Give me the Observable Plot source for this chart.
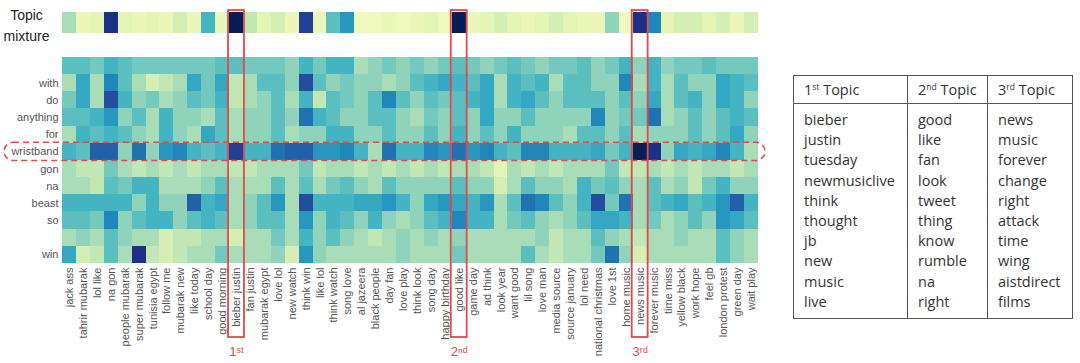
<!DOCTYPE html>
<html><head><meta charset="utf-8">
<script src="https://cdn.jsdelivr.net/npm/d3@7"></script>
<script src="https://cdn.jsdelivr.net/npm/@observablehq/plot@0.6"></script>
<style>
body{margin:0;background:#fff;width:1080px;height:363px;overflow:hidden;position:relative}
#chart{position:absolute;left:0;top:0}
#topics{position:absolute;left:793px;top:75px;border-collapse:collapse;table-layout:fixed;width:279px;font-family:"Open Sans",sans-serif;font-size:14.5px;color:#333}
#topics th,#topics td{border:1.5px solid #555;text-align:left;padding:0 0 0 10px;font-weight:normal;white-space:nowrap}
#topics th{height:27px;vertical-align:middle}
#topics td{vertical-align:top;line-height:20.2px;padding-top:6px;padding-bottom:6px}
#topics sup{font-size:8.5px;vertical-align:5px;line-height:0}
</style></head><body>
<div id="chart"></div>
<table id="topics"></table>
<script>
// ---- data ----
const words = ["", "with", "do", "anything", "for", "wristband", "gon", "na", "beast", "so", "", "win"];
const columns = ["jack ass","tahrir mubarak","lol like","na gon","people mubarak","super mubarak","tunisia egypt","follow me","mubarak new","like today","school day","good morning",
"bieber justin","fan justin","mubarak egypt","love lol","new watch","think win","like lol","think watch","song love","al jazeera","black people","day fan","love play",
"think look","song day","happy birthday","good like","game day","ad think","look year","want good","lil song","love man","media source","source january","lol need",
"national christmas","love 1st","home music","news music","forever music","time miss","yellow black","work hope","feel gb","london protest","green day","wait play"];
const mixture = [0.3,0.12,0.15,0.9,0.15,0.12,0.15,0.12,0.2,0.12,0.5,0.12,1.0,0.25,0.15,0.2,0.12,0.85,0.12,0.45,0.6,0.1,0.1,0.12,0.1,
0.12,0.15,0.1,1.0,0.12,0.15,0.2,0.15,0.12,0.15,0.2,0.15,0.12,0.12,0.35,0.1,0.9,0.65,0.15,0.2,0.2,0.15,0.2,0.12,0.2];
const heatRows = [
[0.45,0.45,0.4,0.5,0.45,0.4,0.4,0.4,0.4,0.4,0.4,0.45,0.45,0.4, 0.4,0.4,0.35,0.5,0.4,0.5,0.5,0.3,0.35,0.4,0.35,0.4,0.35,0.4,0.45,0.4,0.35,0.4, 0.45,0.4,0.35,0.4,0.4,0.45,0.35,0.4,0.5,0.35,0.5,0.35,0.4,0.4,0.45,0.4,0.4,0.4],
[0.3,0.55,0.3,0.65,0.45,0.3,0.2,0.25,0.3,0.55,0.4,0.55,0.25,0.3, 0.45,0.45,0.35,0.8,0.45,0.35,0.4,0.35,0.35,0.3,0.35,0.45,0.5,0.55,0.5,0.45,0.55,0.3, 0.5,0.45,0.5,0.3,0.45,0.45,0.35,0.35,0.65,0.3,0.5,0.3,0.45,0.35,0.35,0.55,0.5,0.45],
[0.4,0.55,0.3,0.8,0.5,0.35,0.4,0.3,0.35,0.45,0.4,0.5,0.25,0.3, 0.35,0.45,0.3,0.5,0.25,0.45,0.4,0.35,0.45,0.65,0.45,0.35,0.45,0.4,0.45,0.5,0.55,0.3, 0.5,0.55,0.45,0.35,0.45,0.45,0.45,0.35,0.45,0.35,0.55,0.3,0.45,0.5,0.35,0.55,0.5,0.35],
[0.45,0.45,0.5,0.6,0.35,0.45,0.3,0.5,0.35,0.35,0.3,0.45,0.3,0.35, 0.35,0.45,0.35,0.7,0.5,0.45,0.35,0.35,0.45,0.45,0.35,0.3,0.4,0.35,0.45,0.35,0.55,0.35, 0.35,0.45,0.35,0.35,0.35,0.35,0.65,0.35,0.4,0.4,0.7,0.3,0.35,0.45,0.35,0.45,0.5,0.45],
[0.3,0.5,0.45,0.5,0.45,0.35,0.3,0.5,0.35,0.3,0.55,0.45,0.3,0.35, 0.35,0.45,0.3,0.35,0.35,0.5,0.5,0.35,0.35,0.45,0.35,0.35,0.45,0.35,0.5,0.35,0.45,0.35, 0.5,0.35,0.35,0.35,0.3,0.45,0.45,0.35,0.45,0.3,0.35,0.35,0.35,0.45,0.35,0.45,0.55,0.35],
[0.5,0.45,0.75,0.75,0.35,0.7,0.35,0.6,0.65,0.5,0.45,0.5,0.85,0.5, 0.5,0.7,0.75,0.75,0.6,0.6,0.65,0.5,0.3,0.7,0.5,0.5,0.65,0.6,0.7,0.6,0.65,0.5, 0.45,0.65,0.65,0.5,0.5,0.5,0.55,0.4,0.5,1.0,0.9,0.35,0.55,0.5,0.55,0.65,0.5,0.3],
[0.3,0.25,0.25,0.4,0.3,0.25,0.3,0.25,0.3,0.25,0.3,0.3,0.25,0.25, 0.3,0.3,0.3,0.4,0.25,0.3,0.3,0.25,0.3,0.25,0.3,0.25,0.3,0.25,0.3,0.3,0.25,0.15, 0.3,0.25,0.3,0.25,0.3,0.3,0.3,0.4,0.25,0.25,0.3,0.25,0.3,0.25,0.3,0.3,0.25,0.3],
[0.3,0.3,0.25,0.45,0.4,0.5,0.5,0.3,0.3,0.3,0.35,0.45,0.3,0.3, 0.3,0.45,0.3,0.45,0.3,0.4,0.45,0.35,0.3,0.45,0.35,0.35,0.35,0.35,0.45,0.35,0.35,0.2, 0.3,0.45,0.35,0.35,0.3,0.5,0.4,0.45,0.35,0.3,0.45,0.3,0.35,0.25,0.4,0.5,0.35,0.35],
[0.5,0.5,0.5,0.5,0.5,0.35,0.5,0.35,0.35,0.75,0.5,0.55,0.3,0.35, 0.45,0.6,0.3,0.8,0.5,0.5,0.5,0.55,0.55,0.6,0.5,0.35,0.55,0.6,0.55,0.5,0.6,0.3, 0.45,0.7,0.65,0.45,0.35,0.5,0.8,0.4,0.7,0.3,0.45,0.5,0.55,0.45,0.5,0.6,0.75,0.5],
[0.45,0.45,0.4,0.65,0.35,0.45,0.5,0.5,0.35,0.45,0.5,0.45,0.3,0.35, 0.45,0.45,0.3,0.6,0.35,0.5,0.45,0.35,0.5,0.35,0.3,0.35,0.45,0.5,0.65,0.5,0.5,0.3, 0.4,0.45,0.35,0.3,0.35,0.45,0.55,0.55,0.5,0.3,0.4,0.3,0.35,0.45,0.35,0.6,0.55,0.45],
[0.3,0.35,0.3,0.45,0.35,0.3,0.3,0.2,0.25,0.25,0.3,0.3,0.2,0.3, 0.3,0.4,0.3,0.5,0.35,0.45,0.35,0.3,0.25,0.3,0.35,0.3,0.35,0.3,0.35,0.3,0.3,0.3, 0.3,0.3,0.35,0.25,0.3,0.3,0.45,0.35,0.3,0.25,0.3,0.3,0.35,0.3,0.3,0.45,0.35,0.3],
[0.55,0.2,0.25,0.45,0.3,0.9,0.25,0.2,0.25,0.3,0.3,0.4,0.3,0.3, 0.3,0.35,0.2,0.6,0.35,0.3,0.3,0.3,0.3,0.3,0.35,0.3,0.3,0.3,0.4,0.3,0.3,0.3, 0.3,0.45,0.3,0.25,0.3,0.3,0.4,0.7,0.35,0.2,0.3,0.3,0.3,0.3,0.3,0.45,0.35,0.3]
];
const highlighted = ["bieber justin", "good like", "news music"];
const highlightNames = ["1ˢᵗ", "2ⁿᵈ", "3ʳᵈ"];
const markedWord = "wristband";
const topicHeaders = [["1","st"], ["2","nd"], ["3","rd"]];
const topic1 = ["bieber","justin","tuesday","newmusiclive","think","thought","jb","new","music","live"];
const topic2 = ["good","like","fan","look","tweet","thing","know","rumble","na","right"];
const topic3 = ["news","music","forever","change","right","attack","time","wing","aistdirect","films"];

// ---- build tables ----
const MIX_TOP = -2.62, MIX_BOTTOM = -1.40;
const cells = [];
heatRows.forEach((row, r) => row.forEach((v, c) => cells.push({r, c, v})));
const mixCells = mixture.map((v, c) => ({c, v}));
const hl = highlighted.map((name, k) => ({c: columns.indexOf(name), label: highlightNames[k]}));
const markedRow = words.indexOf(markedWord);
const red = "#e4484c";

const chart = Plot.plot({
  width: 770, height: 363,
  marginLeft: 62, marginRight: 12, marginTop: 0, marginBottom: 100,
  x: {type: "linear", domain: [0, columns.length], axis: null},
  y: {type: "linear", domain: [-3.32, words.length], reverse: true, axis: null},
  color: {type: "linear", scheme: "YlGnBu", domain: [0, 1]},
  style: {fontFamily: "Liberation Sans, Arial, sans-serif", fontSize: "11px", color: "#555", background: "white"},
  marks: [
    Plot.rect(cells, {x1: d => d.c, x2: d => d.c + 1, y1: d => d.r, y2: d => d.r + 1, fill: "v", shapeRendering: "crispEdges"}),
    Plot.rect(mixCells, {x1: d => d.c, x2: d => d.c + 1, y1: () => MIX_TOP, y2: () => MIX_BOTTOM, fill: "v", shapeRendering: "crispEdges"}),
    Plot.axisX({ticks: d3.range(columns.length).map(i => i + 0.5), tickFormat: i => columns[Math.floor(i)],
      tickRotate: -90, tickSize: 0, tickPadding: 4, anchor: "bottom", label: null, fill: "#555", fontSize: 11}),
    Plot.axisY({ticks: d3.range(words.length).map(i => i + 0.5), tickFormat: i => words[Math.floor(i)],
      tickSize: 0, tickPadding: 4, anchor: "left", label: null, fill: "#555", fontSize: 11}),
    Plot.text(["Topic\nmixture"], {frameAnchor: "left", y: () => (MIX_TOP + MIX_BOTTOM) / 2, dx: -36, dy: 1,
      textAnchor: "middle", lineHeight: 1.45, fontSize: 14, fill: "#222"}),
    Plot.rect([markedRow], {x1: () => 0, x2: () => columns.length, y1: d => d, y2: d => d + 1,
      insetLeft: -58, insetRight: -7, insetTop: -0.5, insetBottom: -0.5, rx: 9,
      fill: "none", stroke: red, strokeWidth: 1.5, strokeDasharray: "6,4"}),
    Plot.rect(hl, {x1: d => d.c, x2: d => d.c + 1, y1: () => MIX_TOP, y2: () => words.length,
      insetTop: -2, insetBottom: -74, insetLeft: -1, insetRight: -1,
      fill: "none", stroke: red, strokeWidth: 1.8}),
    Plot.text(hl, {x: d => d.c + 0.5, y: () => words.length, dy: 88, text: "label", fill: red, fontSize: 13})
  ]
});
document.getElementById("chart").appendChild(chart);

// ---- table ----
const table = document.getElementById("topics");
const colW = [114, 80, 85];
const cg = document.createElement("colgroup");
colW.forEach(w => { const c = document.createElement("col"); c.style.width = w + "px"; cg.appendChild(c); });
table.appendChild(cg);
const hr = document.createElement("tr");
topicHeaders.forEach(([n, s]) => { const th = document.createElement("th"); th.innerHTML = `${n}<sup>${s}</sup> Topic`; hr.appendChild(th); });
table.appendChild(hr);
const br = document.createElement("tr");
[topic1, topic2, topic3].forEach(list => { const td = document.createElement("td"); td.innerHTML = list.join("<br>"); br.appendChild(td); });
table.appendChild(br);
</script>
</body></html>
